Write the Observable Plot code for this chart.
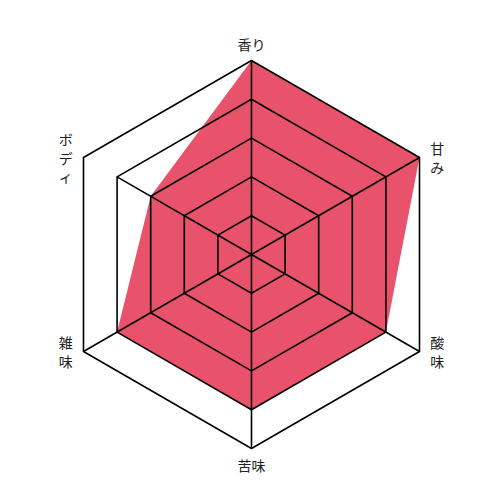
<!DOCTYPE html>
<html>
<head>
<meta charset="utf-8">
<script src="https://cdn.jsdelivr.net/npm/d3@7"></script>
<script src="https://cdn.jsdelivr.net/npm/@observablehq/plot@0.6"></script>
<style>
  html, body { margin: 0; padding: 0; background: #fff; }
  #chart { width: 500px; height: 500px; }
</style>
</head>
<body>
<div id="chart"></div>
<script>
const axes = ["香り", "甘み", "酸味", "苦味", "雑味", "ボディ"];
const values = [5, 5, 4, 4, 4, 3];
const levels = [1, 2, 3, 4, 5];
const spokeLengths = [5, 5, 5, 5, 5, 4];

const n = axes.length;
const ang = i => (i * 2 * Math.PI) / n;
const px = (i, r) => r * Math.sin(ang(i));
const py = (i, r) => r * Math.cos(ang(i));

const gridPts = levels.flatMap(l => axes.map((a, i) => ({level: l, x: px(i, l), y: py(i, l)})));
const spokes = axes.map((a, i) => ({x1: 0, y1: 0, x2: px(i, spokeLengths[i]), y2: py(i, spokeLengths[i])}));
const areaPts = axes.map((a, i) => ({x: px(i, values[i]), y: py(i, values[i])}));

const gap = 0.46;
const labels = axes.map((a, i) => {
  const vx = px(i, 5), vy = py(i, 5);
  if (i % 3 === 0) {
    return {text: a, x: 0, y: vy + Math.sign(vy) * 0.43};
  }
  return {text: a.split("").join("\n"), x: vx + Math.sign(vx) * gap, y: vy};
});

const chart = Plot.plot({
  width: 500,
  height: 500,
  margin: 0,
  x: {domain: [-6.469, 6.418], range: [0, 500], axis: null},
  y: {domain: [-6.340, 6.546], range: [500, 0], axis: null},
  style: {background: "#fff", fontFamily: "'Noto Sans CJK JP', 'Noto Sans', sans-serif"},
  marks: [
    Plot.line(areaPts, {x: "x", y: "y", curve: "linear-closed", fill: "#e8526a", stroke: "none"}),
    Plot.line(gridPts, {x: "x", y: "y", z: "level", curve: "linear-closed", stroke: "#000", strokeWidth: 1.6}),
    Plot.link(spokes, {x1: "x1", y1: "y1", x2: "x2", y2: "y2", stroke: "#000", strokeWidth: 1.6}),
    Plot.text(labels, {x: "x", y: "y", text: "text", fontSize: 14, lineHeight: 1.35, fill: "#222"})
  ]
});
document.getElementById("chart").appendChild(chart);
</script>
</body>
</html>
